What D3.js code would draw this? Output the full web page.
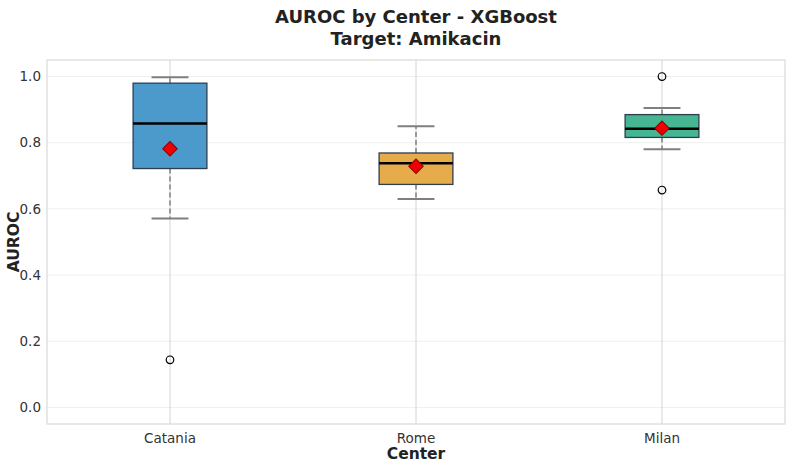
<!DOCTYPE html>
<html lang="en">
<head>
    <meta charset="UTF-8">
    <title>AUROC by Center - XGBoost</title>
    <script src="https://d3js.org/d3.v7.min.js"></script>
    <style>
        body {
            margin: 0;
            background: #fff;
            font-family: "DejaVu Sans", sans-serif;
        }
    </style>
</head>
<body>
    <div id="chart"></div>

    <script>
        // values
        const centers = ['Catania', 'Rome', 'Milan'];
        const whiskerLow = [0.571, 0.630, 0.780];
        const q1 = [0.722, 0.674, 0.816];
        const median = [0.858, 0.738, 0.842];
        const q3 = [0.980, 0.769, 0.885];
        const whiskerHigh = [0.998, 0.850, 0.905];
        const means = [0.782, 0.729, 0.844];
        const outliers = [[0.144], [], [0.657, 1.0]];
        const yTicks = [0.0, 0.2, 0.4, 0.6, 0.8, 1.0];
        const boxColors = ['#4b9acb', '#e6ac4c', '#45b592'];

        const width = 794, height = 468;
        const margin = {top: 60, right: 9, bottom: 44, left: 47};

        const svg = d3.select('#chart')
            .append('svg')
            .attr('width', width)
            .attr('height', height);

        const x = d3.scaleBand()
            .domain(centers)
            .range([margin.left, width - margin.right]);

        const y = d3.scaleLinear()
            .domain([-0.05, 1.05])
            .range([height - margin.bottom, margin.top]);

        const data = centers.map((c, i) => ({
            name: c,
            lo: whiskerLow[i], q1: q1[i], med: median[i], q3: q3[i], hi: whiskerHigh[i],
            mean: means[i], out: outliers[i], color: boxColors[i]
        }));

        // grid
        svg.append('g')
            .selectAll('line')
            .data(yTicks)
            .enter()
            .append('line')
            .attr('x1', margin.left)
            .attr('x2', width - margin.right)
            .attr('y1', d => y(d))
            .attr('y2', d => y(d))
            .attr('stroke', '#efefef')
            .attr('stroke-width', 1);

        svg.append('g')
            .selectAll('line')
            .data(centers)
            .enter()
            .append('line')
            .attr('x1', d => x(d) + x.bandwidth() / 2)
            .attr('x2', d => x(d) + x.bandwidth() / 2)
            .attr('y1', margin.top)
            .attr('y2', height - margin.bottom)
            .attr('stroke', '#d4d4d4')
            .attr('stroke-width', 1);

        // frame
        svg.append('rect')
            .attr('x', margin.left)
            .attr('y', margin.top)
            .attr('width', width - margin.left - margin.right)
            .attr('height', height - margin.top - margin.bottom)
            .attr('fill', 'none')
            .attr('stroke', '#d9d9d9')
            .attr('stroke-width', 1.2);

        const boxW = x.bandwidth() * 0.3;
        const capW = boxW / 2;

        const groups = svg.append('g')
            .selectAll('g')
            .data(data)
            .enter()
            .append('g')
            .attr('transform', d => `translate(${x(d.name) + x.bandwidth() / 2},0)`);

        // whiskers
        groups.append('line')
            .attr('y1', d => y(d.q3))
            .attr('y2', d => y(d.hi))
            .attr('stroke', '#7f7f7f')
            .attr('stroke-width', 1.5)
            .attr('stroke-dasharray', '5,3');
        groups.append('line')
            .attr('y1', d => y(d.q1))
            .attr('y2', d => y(d.lo))
            .attr('stroke', '#7f7f7f')
            .attr('stroke-width', 1.5)
            .attr('stroke-dasharray', '5,3');

        // caps
        groups.selectAll('.cap')
            .data(d => [d.lo, d.hi])
            .enter()
            .append('line')
            .attr('x1', -capW / 2)
            .attr('x2', capW / 2)
            .attr('y1', d => y(d))
            .attr('y2', d => y(d))
            .attr('stroke', '#7f7f7f')
            .attr('stroke-width', 2);

        // boxes
        groups.append('rect')
            .attr('x', -boxW / 2)
            .attr('width', boxW)
            .attr('y', d => y(d.q3))
            .attr('height', d => y(d.q1) - y(d.q3))
            .attr('fill', d => d.color)
            .attr('stroke', '#2f3e4e')
            .attr('stroke-width', 1.3);

        // median
        groups.append('line')
            .attr('x1', -boxW / 2)
            .attr('x2', boxW / 2)
            .attr('y1', d => y(d.med))
            .attr('y2', d => y(d.med))
            .attr('stroke', '#000')
            .attr('stroke-width', 2.5);

        // outliers
        groups.selectAll('.out')
            .data(d => d.out)
            .enter()
            .append('circle')
            .attr('cx', 0)
            .attr('cy', d => y(d))
            .attr('r', 3.8)
            .attr('fill', 'none')
            .attr('stroke', '#000')
            .attr('stroke-width', 1.2);

        // mean diamond
        groups.append('path')
            .attr('d', d3.symbol().type(d3.symbolSquare).size(105))
            .attr('transform', d => `translate(0,${y(d.mean)}) rotate(45)`)
            .attr('fill', '#ee0000')
            .attr('stroke', '#8b0000')
            .attr('stroke-width', 1);

        // axes labels
        svg.append('g')
            .selectAll('text')
            .data(yTicks)
            .enter()
            .append('text')
            .attr('x', margin.left - 6)
            .attr('y', d => y(d))
            .attr('dy', '0.35em')
            .attr('text-anchor', 'end')
            .style('font-size', '13.5px')
            .style('fill', '#333')
            .text(d => d.toFixed(1));

        svg.append('g')
            .selectAll('text')
            .data(centers)
            .enter()
            .append('text')
            .attr('x', d => x(d) + x.bandwidth() / 2)
            .attr('y', height - margin.bottom + 19)
            .attr('text-anchor', 'middle')
            .style('font-size', '13.5px')
            .style('fill', '#333')
            .text(d => d);

        svg.append('text')
            .attr('x', (margin.left + width - margin.right) / 2)
            .attr('y', 459)
            .attr('text-anchor', 'middle')
            .style('font-size', '15.5px')
            .style('font-weight', 'bold')
            .style('fill', '#222')
            .text('Center');

        svg.append('text')
            .attr('transform', `translate(19,${(margin.top + height - margin.bottom) / 2}) rotate(-90)`)
            .attr('text-anchor', 'middle')
            .style('font-size', '15.5px')
            .style('font-weight', 'bold')
            .style('fill', '#222')
            .text('AUROC');

        // title
        svg.append('text')
            .attr('x', (margin.left + width - margin.right) / 2)
            .attr('y', 23)
            .attr('text-anchor', 'middle')
            .style('font-size', '18px')
            .style('font-weight', 'bold')
            .style('fill', '#222')
            .text('AUROC by Center - XGBoost');
        svg.append('text')
            .attr('x', (margin.left + width - margin.right) / 2)
            .attr('y', 45)
            .attr('text-anchor', 'middle')
            .style('font-size', '18px')
            .style('font-weight', 'bold')
            .style('fill', '#222')
            .text('Target: Amikacin');
    </script>
</body>
</html>
